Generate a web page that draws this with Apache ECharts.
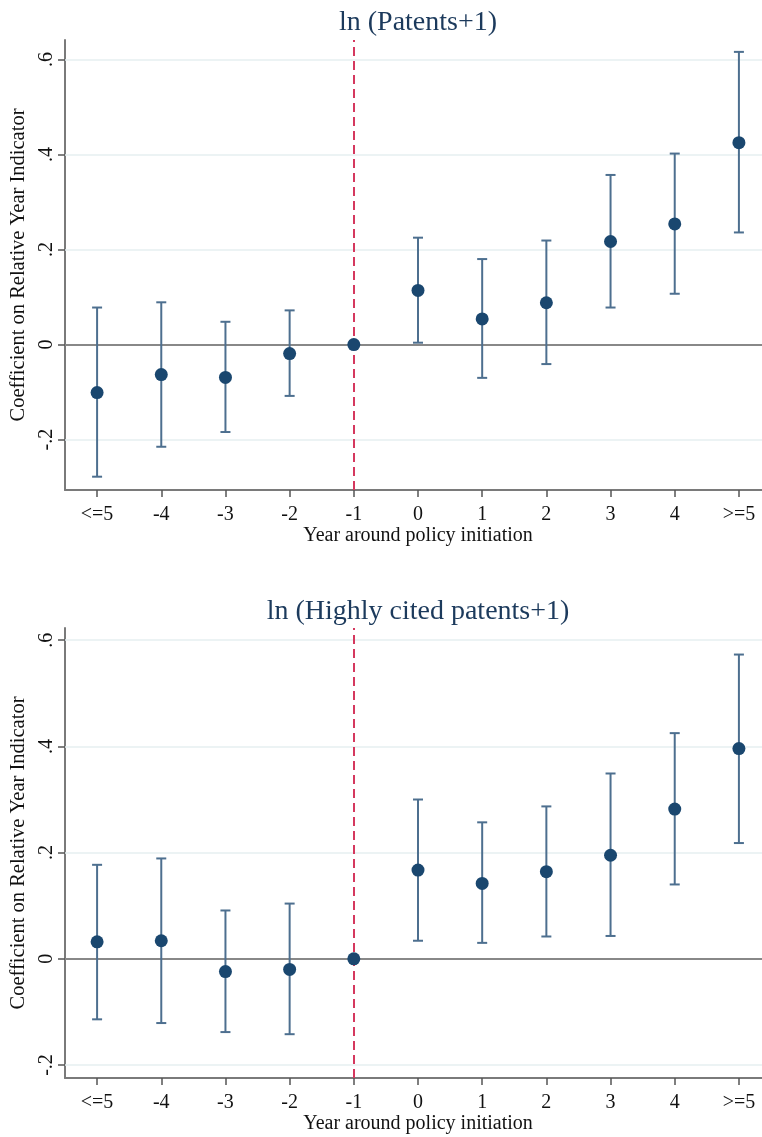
<!DOCTYPE html>
<html>
<head>
<meta charset="utf-8">
<script src="https://cdn.jsdelivr.net/npm/echarts@6/dist/echarts.min.js"></script>
<style>html,body{margin:0;padding:0;background:#fff;}#c{width:762px;height:1137px;}</style>
</head>
<body>
<div id="c"></div>
<script>
const categories = ['<=5', '-4', '-3', '-2', '-1', '0', '1', '2', '3', '4', '>=5'];
const titles = ['ln (Patents+1)', 'ln (Highly cited patents+1)'];
const xAxisTitle = 'Year around policy initiation';
const yAxisTitle = 'Coefficient on Relative Year Indicator';
const refCategory = '-1';

const patCoef = [-0.101, -0.063, -0.069, -0.019, 0, 0.114, 0.054, 0.088, 0.217, 0.254, 0.425];
const patLow  = [-0.278, -0.215, -0.184, -0.108, null, 0.004, -0.070, -0.041, 0.078, 0.107, 0.236];
const patHigh = [0.078, 0.089, 0.048, 0.072, null, 0.225, 0.180, 0.219, 0.357, 0.402, 0.616];

const citCoef = [0.032, 0.034, -0.024, -0.020, 0, 0.167, 0.142, 0.164, 0.195, 0.282, 0.396];
const citLow  = [-0.114, -0.121, -0.138, -0.142, null, 0.034, 0.030, 0.042, 0.043, 0.140, 0.218];
const citHigh = [0.177, 0.189, 0.091, 0.104, null, 0.300, 0.257, 0.287, 0.349, 0.425, 0.573];

const yTicks = [-0.2, 0, 0.2, 0.4, 0.6];
const yTickLabels = ['-.2', '0', '.2', '.4', '.6'];

const FONT = '"Liberation Serif", "Times New Roman", serif';
const NAVY = '#1a476f';
const BAR = '#4d6f8f';
const AXIS = '#7a7a7a';

const chart = echarts.init(document.getElementById('c'), null, {renderer: 'canvas'});

function errorRender(params, api) {
  const lo = api.value(1), hi = api.value(2);
  if (lo == null || hi == null || isNaN(lo) || isNaN(hi)) return null;
  const i = api.value(0);
  const top = api.coord([i, hi]);
  const bot = api.coord([i, lo]);
  const w = 5;
  const st = {stroke: BAR, lineWidth: 2};
  return {
    type: 'group',
    children: [
      {type: 'line', shape: {x1: top[0], y1: top[1], x2: bot[0], y2: bot[1]}, style: st},
      {type: 'line', shape: {x1: top[0] - w, y1: top[1], x2: top[0] + w, y2: top[1]}, style: st},
      {type: 'line', shape: {x1: bot[0] - w, y1: bot[1], x2: bot[0] + w, y2: bot[1]}, style: st}
    ]
  };
}

const grids = [
  {left: 65, right: -9, top: 40, height: 450, outerBoundsMode: 'none', containLabel: false},
  {left: 65, right: -9, top: 628, height: 450, outerBoundsMode: 'none', containLabel: false}
];
const yRanges = [[-0.306, 0.641], [-0.2245, 0.623]];
const panels = [[patCoef, patLow, patHigh], [citCoef, citLow, citHigh]];

const xAxes = grids.map((g, k) => ({
  type: 'category', gridIndex: k, data: categories, boundaryGap: true,
  axisLine: {show: true, onZero: false, lineStyle: {color: AXIS, width: 2}},
  axisTick: {show: true, alignWithLabel: true, inside: false, length: 7, lineStyle: {color: '#555', width: 1.5}},
  axisLabel: {color: '#111', fontFamily: FONT, fontSize: 20, margin: 15},
  splitLine: {show: false},
  name: xAxisTitle, nameLocation: 'middle', nameGap: 35,
  nameTextStyle: {color: '#111', fontFamily: FONT, fontSize: 20}
}));

const yAxes = grids.map((g, k) => ({
  type: 'value', gridIndex: k, min: yRanges[k][0], max: yRanges[k][1],
  axisLine: {show: true, onZero: false, lineStyle: {color: AXIS, width: 2}},
  axisTick: {show: true, inside: false, length: 7, customValues: yTicks, lineStyle: {color: '#555', width: 1.5}},
  axisLabel: {
    customValues: yTicks, rotate: 90, margin: 8, color: '#111', fontFamily: FONT, fontSize: 20,
    formatter: v => { const i = yTicks.findIndex(t => Math.abs(t - v) < 1e-9); return i >= 0 ? yTickLabels[i] : ''; }
  },
  splitLine: {show: false},
  name: yAxisTitle, nameLocation: 'middle', nameGap: 27, nameRotate: 90,
  nameTextStyle: {color: '#111', fontFamily: FONT, fontSize: 20.5}
}));

const series = [];
panels.forEach((p, k) => {
  const [coef, low, high] = p;
  series.push({
    type: 'scatter', xAxisIndex: k, yAxisIndex: k, data: [], z: 1, silent: true,
    markLine: {
      silent: true, symbol: 'none', animation: false, label: {show: false}, z: 1,
      lineStyle: {color: '#e6eff1', width: 1.5, type: 'solid'},
      data: yTicks.filter(t => t !== 0).map(t => ({yAxis: t}))
    }
  });
  series.push({
    type: 'scatter', xAxisIndex: k, yAxisIndex: k, data: [], z: 2, silent: true,
    markLine: {
      silent: true, symbol: 'none', animation: false, label: {show: false}, z: 2,
      data: [
        {yAxis: 0, lineStyle: {color: '#888', width: 2, type: 'solid'}},
        {xAxis: refCategory, lineStyle: {color: '#d5385e', width: 2, type: [9, 5]}}
      ]
    }
  });
  series.push({
    type: 'custom', xAxisIndex: k, yAxisIndex: k, z: 3,
    renderItem: errorRender,
    encode: {x: 0, y: [1, 2]},
    data: categories.map((c, i) => [i, low[i], high[i]])
  });
  series.push({
    type: 'scatter', xAxisIndex: k, yAxisIndex: k, z: 4,
    symbol: 'circle', symbolSize: 13,
    itemStyle: {color: NAVY, opacity: 1},
    data: categories.map((c, i) => [i, coef[i]])
  });
});

chart.setOption({
  animation: false,
  backgroundColor: '#fff',
  title: [
    {text: titles[0], left: 418, top: 9, textAlign: 'center', padding: 0,
     textStyle: {color: '#1c3a5c', fontFamily: FONT, fontSize: 28, fontWeight: 'normal'}},
    {text: titles[1], left: 418, top: 598, textAlign: 'center', padding: 0,
     textStyle: {color: '#1c3a5c', fontFamily: FONT, fontSize: 28, fontWeight: 'normal'}}
  ],
  grid: grids,
  xAxis: xAxes,
  yAxis: yAxes,
  series: series
});
</script>
</body>
</html>
